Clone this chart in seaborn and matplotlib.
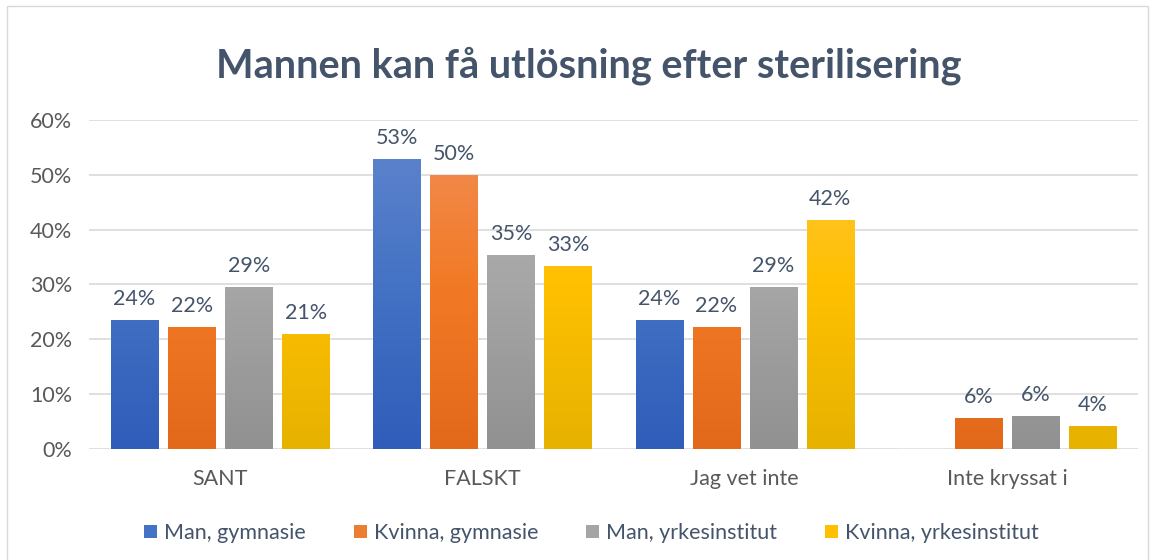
import numpy as np
import pandas as pd
import matplotlib
matplotlib.use("Agg")
import matplotlib.pyplot as plt
import seaborn as sns
from matplotlib.colors import LinearSegmentedColormap
from matplotlib.patches import Rectangle, Patch

categories = ["SANT", "FALSKT", "Jag vet inte", "Inte kryssat i"]
series = ["Man, gymnasie", "Kvinna, gymnasie", "Man, yrkesinstitut", "Kvinna, yrkesinstitut"]
man_gymnasie = [23.5, 52.9, 23.5, 0.0]
kvinna_gymnasie = [22.2, 50.0, 22.2, 5.6]
man_yrkes = [29.5, 35.3, 29.5, 6.0]
kvinna_yrkes = [21.0, 33.4, 41.8, 4.2]
labels_text = [["24%", "53%", "24%", ""],
               ["22%", "50%", "22%", "6%"],
               ["29%", "35%", "29%", "6%"],
               ["21%", "33%", "42%", "4%"]]
yticks = [0, 10, 20, 30, 40, 50, 60]

values = [man_gymnasie, kvinna_gymnasie, man_yrkes, kvinna_yrkes]
rows = []
for s, vals in zip(series, values):
    for c, v in zip(categories, vals):
        rows.append({"cat": c, "series": s, "val": v})
df = pd.DataFrame(rows)

base = ["#4472C4", "#ED7D31", "#A5A5A5", "#FFC000"]
grads = [("#6286CE", "#4472C4", "#2F5DB9"),
         ("#F18F58", "#F27A26", "#E2691A"),
         ("#B3B3B3", "#A6A6A6", "#919191"),
         ("#FFC646", "#FFC000", "#E6B200")]

sns.set_style("white")
plt.rcParams["font.family"] = ["Lato", "DejaVu Sans"]

fs = 15.5
fig = plt.figure(figsize=(11.53, 5.6), dpi=100)
ax = fig.add_axes([0.0772, 0.198, 0.9098, 0.588])

sns.barplot(data=df, x="cat", y="val", hue="series", hue_order=series,
            order=categories, palette=base, width=0.87, gap=0.175,
            legend=False, ax=ax, saturation=1)

ax.set_ylim(0, 60)
ax.set_xlim(-0.5, 3.5)
ax.set_yticks(yticks)
ax.set_yticklabels([f"{t}%" for t in yticks])
ax.yaxis.grid(True, color="#D9D9D9", lw=1.2)
ax.set_axisbelow(True)
for sp in ax.spines.values():
    sp.set_visible(False)
ax.set_xlabel("")
ax.set_ylabel("")
ax.tick_params(axis="both", length=0, colors="#595959", labelsize=fs)
ax.tick_params(axis="x", pad=14)
ax.tick_params(axis="y", pad=12)

# gradient fill
for i, cont in enumerate(ax.containers):
    cmap = LinearSegmentedColormap.from_list(f"g{i}", list(grads[i]))
    for bar in cont:
        x0, y0 = bar.get_x(), bar.get_y()
        w, h = bar.get_width(), bar.get_height()
        if h <= 0:
            continue
        grad = np.linspace(1, 0, 256).reshape(-1, 1)
        im = ax.imshow(grad, extent=[x0, x0 + w, y0, y0 + 60], aspect="auto",
                       cmap=cmap, origin="lower", zorder=bar.get_zorder())
        im.set_clip_path(bar)
    ax.bar_label(cont, labels=labels_text[i], padding=8, color="#44546A", fontsize=fs)

ax.set_aspect("auto")
ax.set_xlim(-0.5, 3.5)
ax.set_ylim(0, 60)

fig.text(0.511, 0.883, "Mannen kan få utlösning efter sterilisering", ha="center", va="center",
         fontsize=28.5, fontweight="bold", color="#44546A")

handles = [Patch(facecolor=c, edgecolor="none") for c in base]
fig.legend(handles, series, loc="center", bbox_to_anchor=(0.513, 0.048), ncol=4,
           frameon=False, fontsize=fs, labelcolor="#44546A", handlelength=0.6,
           handleheight=0.6, handletextpad=0.35, columnspacing=2.2)

fig.patches.append(Rectangle((0.006, -0.01), 0.99, 1.0, transform=fig.transFigure,
                             fill=False, edgecolor="#D9D9D9", lw=1))

fig.savefig("out.png", dpi=100, facecolor="white")
